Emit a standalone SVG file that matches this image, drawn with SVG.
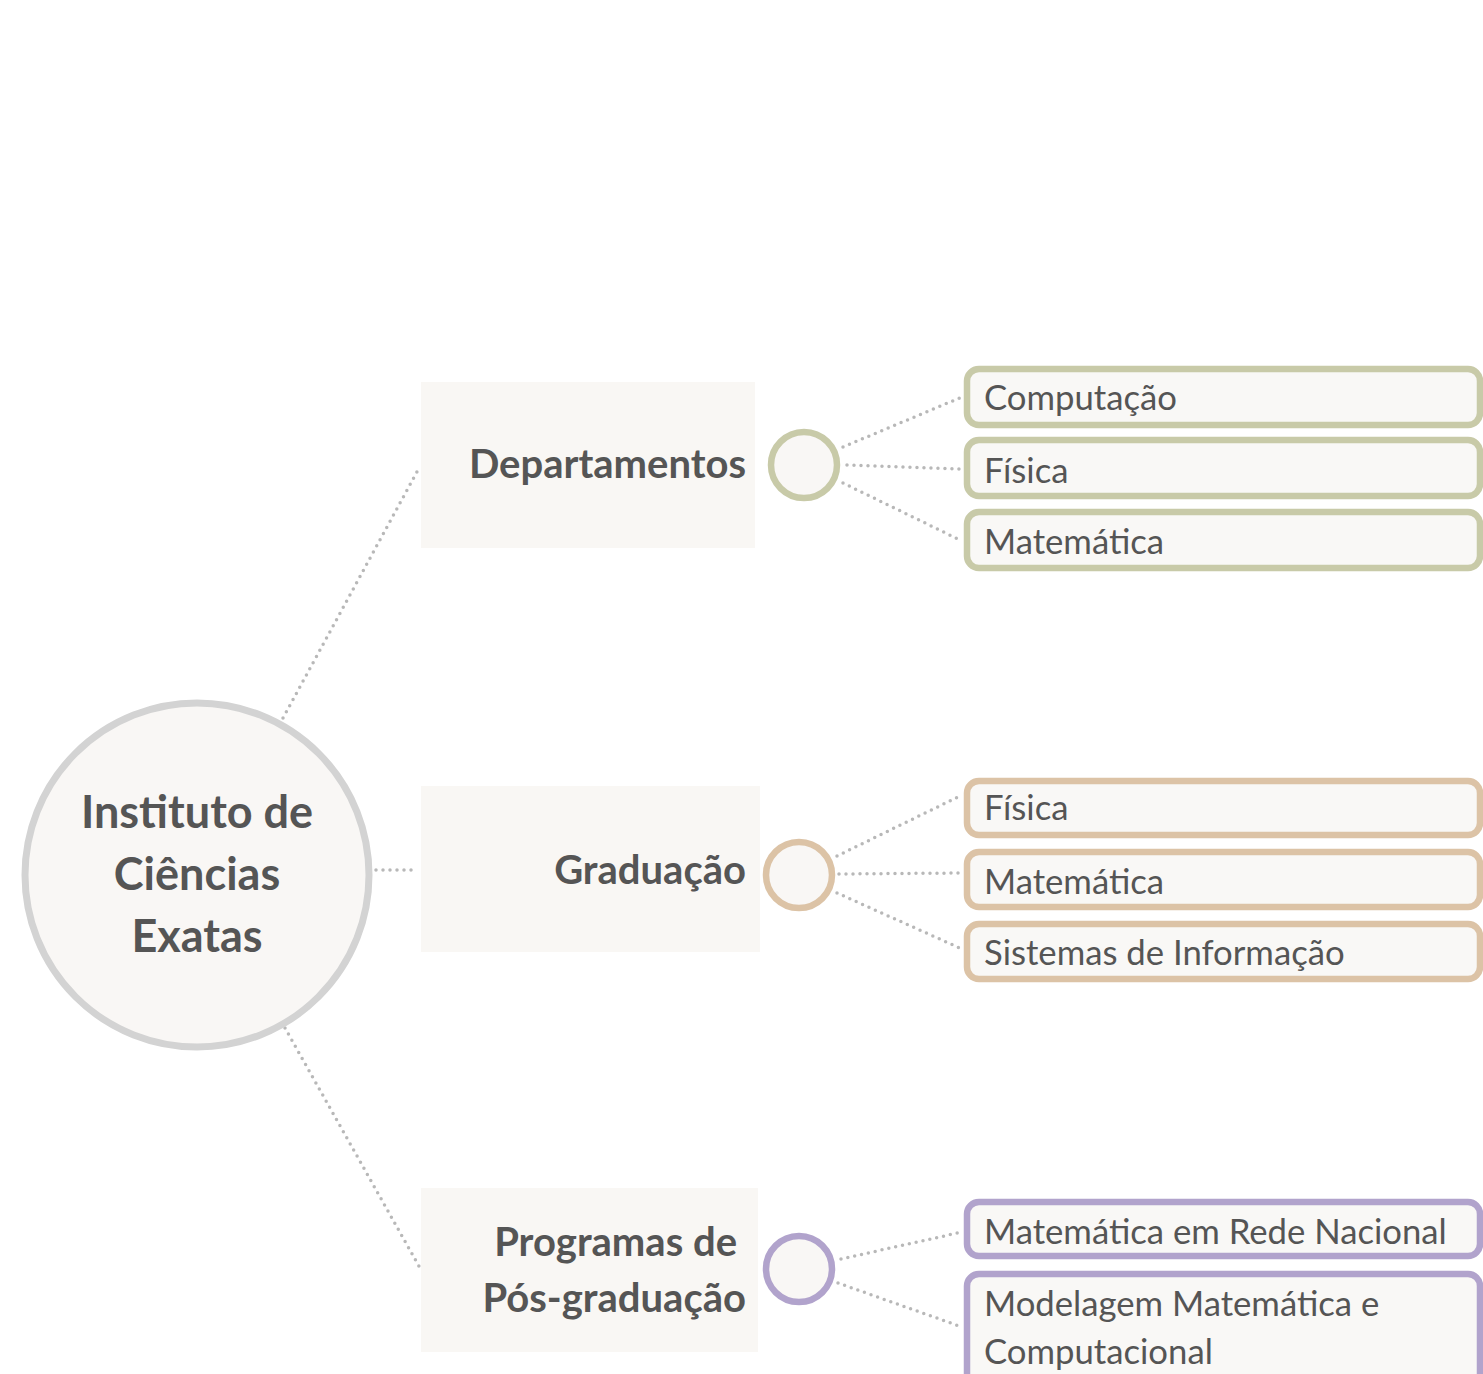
<svg xmlns="http://www.w3.org/2000/svg" width="1483" height="1374" viewBox="0 0 1483 1374">
<style>
.bg{fill:#ffffff}
.root{fill:#f9f7f5;stroke:#d3d3d3;stroke-width:7}
.hub{fill:#f9f7f4;stroke:none}
.rootT{font-family:Lato,"Liberation Sans",sans-serif;font-weight:bold;font-size:45px;fill:#555555;text-anchor:middle}
.hubT{font-family:Lato,"Liberation Sans",sans-serif;font-weight:bold;font-size:40px;fill:#555555;text-anchor:end}
.leafT{font-family:Lato,"Liberation Sans",sans-serif;font-size:34.7px;fill:#555555}
.leaf{fill:#f9f8f6;stroke-width:6.5}
.knob{fill:#f9f7f5;stroke-width:6.5}
.g1{stroke:#c8caa8}
.g2{stroke:#dcc3a6}
.g3{stroke:#b1a3cc}
.conn{fill:none;stroke:#b8b8b8;stroke-width:3.5;stroke-linecap:round;stroke-dasharray:0 7}
</style>
<rect class="bg" x="0" y="0" width="1483" height="1374"/>
<g id="connectors">
<line class="conn" x1="283" y1="718" x2="418" y2="470"/>
<line class="conn" x1="376" y1="870" x2="418" y2="870"/>
<line class="conn" x1="285" y1="1028" x2="420" y2="1268"/>
<line class="conn" x1="843" y1="447" x2="962" y2="397"/>
<line class="conn" x1="847" y1="465" x2="962" y2="469"/>
<line class="conn" x1="843" y1="483" x2="962" y2="541"/>
<line class="conn" x1="837" y1="856" x2="962" y2="795"/>
<line class="conn" x1="839" y1="874" x2="962" y2="873"/>
<line class="conn" x1="837" y1="893" x2="962" y2="949"/>
<line class="conn" x1="841" y1="1259" x2="962" y2="1232"/>
<line class="conn" x1="838" y1="1283" x2="962" y2="1327"/>
</g>
<g id="root">
<circle class="root" cx="197" cy="875" r="172"/>
<text class="rootT" x="197" y="828">Instituto de</text>
<text class="rootT" x="197" y="890">Ciências</text>
<text class="rootT" x="197" y="952">Exatas</text>
</g>
<g id="departamentos">
<rect class="hub" x="421" y="382" width="334" height="166"/>
<text class="hubT" x="746" y="478">Departamentos</text>
<circle class="knob g1" cx="804" cy="465" r="33"/>
</g>
<g id="graduacao">
<rect class="hub" x="421" y="786" width="339" height="166"/>
<text class="hubT" x="746" y="884">Graduação</text>
<circle class="knob g2" cx="799" cy="875" r="33"/>
</g>
<g id="posgraduacao">
<rect class="hub" x="421" y="1188" width="337" height="164"/>
<text class="hubT" x="737" y="1256">Programas de</text>
<text class="hubT" x="746" y="1312">Pós-graduação</text>
<circle class="knob g3" cx="799" cy="1269" r="33"/>
</g>
<g id="dep-computacao">
<rect class="leaf g1" x="967" y="369" width="513" height="56" rx="12"/>
<text class="leafT" x="984" y="410">Computação</text>
</g>
<g id="dep-fisica">
<rect class="leaf g1" x="967" y="440" width="513" height="56" rx="12"/>
<text class="leafT" x="984" y="483">Física</text>
</g>
<g id="dep-matematica">
<rect class="leaf g1" x="967" y="512" width="513" height="56" rx="12"/>
<text class="leafT" x="984" y="554">Matemática</text>
</g>
<g id="grad-fisica">
<rect class="leaf g2" x="967" y="781" width="513" height="54" rx="12"/>
<text class="leafT" x="984" y="820">Física</text>
</g>
<g id="grad-matematica">
<rect class="leaf g2" x="967" y="852" width="513" height="55" rx="12"/>
<text class="leafT" x="984" y="894">Matemática</text>
</g>
<g id="grad-si">
<rect class="leaf g2" x="967" y="924" width="513" height="55" rx="12"/>
<text class="leafT" x="984" y="965">Sistemas de Informação</text>
</g>
<g id="pos-profmat">
<rect class="leaf g3" x="967" y="1202" width="513" height="54" rx="12"/>
<text class="leafT" x="984" y="1244">Matemática em Rede Nacional</text>
</g>
<g id="pos-modelagem">
<rect class="leaf g3" x="967" y="1274" width="513" height="130" rx="12"/>
<text class="leafT" x="984" y="1316">Modelagem Matemática e</text>
<text class="leafT" x="984" y="1364">Computacional</text>
</g>
</svg>
